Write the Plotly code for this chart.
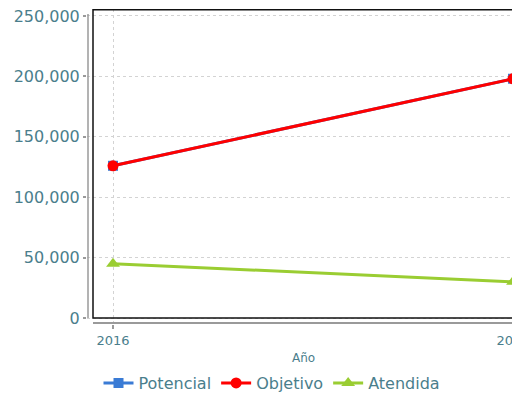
import plotly.graph_objects as go

years = [2016, 2017]
year_labels = ["2016", "2017"]
potencial = [126000, 198000]
objetivo = [126000, 198000]
atendida = [45000, 30000]
y_ticks = [0, 50000, 100000, 150000, 200000, 250000]

TEXT = "#4a7e8c"
FONT = "DejaVu Sans, Verdana, sans-serif"

# pixel geometry helpers (page has an 8px body margin)
PX_PER_YEAR = 400.0
PX_PER_UNIT = 305.0 / 250000
x0 = 2016 - 26 / PX_PER_YEAR
x1 = 2016 + 407 / PX_PER_YEAR
y0 = -6 / PX_PER_UNIT
y1 = 312 / PX_PER_UNIT

fig = go.Figure()
fig.add_trace(go.Scatter(x=years, y=potencial, name="Potencial", mode="lines+markers",
                         line=dict(color="#3a7bd5", width=3),
                         marker=dict(symbol="square", size=10, color="#3a7bd5")))
fig.add_trace(go.Scatter(x=years, y=objetivo, name="Objetivo", mode="lines+markers",
                         line=dict(color="#ff0000", width=3),
                         marker=dict(symbol="circle", size=11, color="#ff0000")))
fig.add_trace(go.Scatter(x=years, y=atendida, name="Atendida", mode="lines+markers",
                         line=dict(color="#9acd32", width=3),
                         marker=dict(symbol="triangle-up", size=12, color="#9acd32")))

shapes = [
    # black frame
    dict(type="rect", xref="x", yref="y", x0=2016 - 20 / PX_PER_YEAR, x1=2017.3,
         y0=0, y1=y1 - 0.8 / PX_PER_UNIT, line=dict(color="#111", width=1.5), layer="above"),
    # gray y axis line
    dict(type="line", xref="x", yref="y", x0=2016 - 25 / PX_PER_YEAR, x1=2016 - 25 / PX_PER_YEAR,
         y0=0, y1=y_ticks[-1] + 2 / PX_PER_UNIT, line=dict(color="#9a9a9a", width=1.5)),
    # gray x axis line
    dict(type="line", xref="x", yref="y", x0=2016 - 20 / PX_PER_YEAR, x1=2017.3,
         y0=-5 / PX_PER_UNIT, y1=-5 / PX_PER_UNIT, line=dict(color="#9a9a9a", width=2)),
]

fig.update_layout(
    width=512, height=392,
    margin=dict(l=79, r=0, t=1, b=73),
    paper_bgcolor="white", plot_bgcolor="white",
    font=dict(family=FONT, color=TEXT),
    showlegend=True,
    legend=dict(orientation="h", x=185 / 433, xanchor="center", y=-0.188, yanchor="middle",
                font=dict(size=16, color=TEXT), itemwidth=30, traceorder="normal"),
    xaxis=dict(range=[x0, x1], tickvals=years, ticktext=year_labels, showline=False,
               automargin=False, ticklabeloverflow="allow",
               ticks="outside", ticklen=4, tickcolor="#9a9a9a", tickwidth=1.5,
               showgrid=True, gridcolor="#d3d3d3", griddash="3px,3px", gridwidth=1,
               zeroline=False, tickfont=dict(size=13, color=TEXT),
               title=dict(text="Año", font=dict(size=12, color=TEXT), standoff=7)),
    yaxis=dict(range=[y0, y1], tickvals=y_ticks, tickformat=",", showline=False,
               automargin=False, ticklabeloverflow="allow",
               ticks="outside", ticklen=3, tickcolor="#9a9a9a", tickwidth=1.5,
               showgrid=True, gridcolor="#d3d3d3", griddash="3px,3px", gridwidth=1,
               zeroline=False, tickfont=dict(size=16, color=TEXT)),
    shapes=shapes,
)

fig.write_html("out.html")
